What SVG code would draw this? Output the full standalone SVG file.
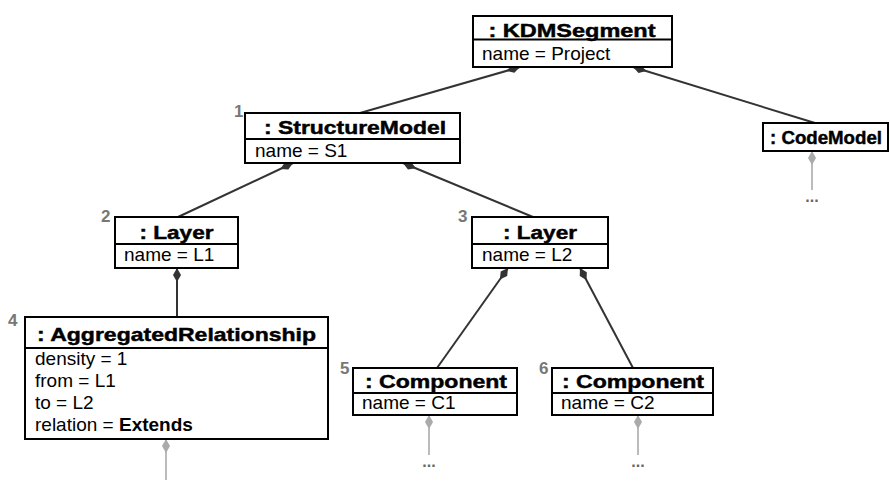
<svg xmlns="http://www.w3.org/2000/svg" width="890" height="484" viewBox="0 0 890 484">
  <style>
    .box { fill: #ffffff; stroke: #000000; stroke-width: 2; }
    .sep { stroke: #000000; stroke-width: 2; }
    .title { font-family: "Liberation Sans", Arial, sans-serif; font-weight: bold; font-size: 18.5px; fill: #000000; stroke: #000000; stroke-width: 0.45; text-anchor: middle; }
    .attr { font-family: "Liberation Sans", Arial, sans-serif; font-size: 19px; fill: #000000; }
    .num { font-family: "Liberation Sans", Arial, sans-serif; font-weight: bold; font-size: 17px; fill: #777777; }
    .more { font-family: "Liberation Sans", Arial, sans-serif; font-weight: bold; font-size: 16px; fill: #666666; text-anchor: middle; }
    .link { stroke: #333333; stroke-width: 2; fill: none; marker-start: url(#diamond); }
    .stub { stroke: #bbbbbb; stroke-width: 2; fill: none; marker-start: url(#diamondGray); }
  </style>
  <defs>
    <marker id="diamond" markerUnits="userSpaceOnUse" markerWidth="16" markerHeight="10" refX="0" refY="5" orient="auto" overflow="visible">
      <path d="M0,5 L7,1 L14,5 L7,9 Z" fill="#333333"/>
    </marker>
    <marker id="diamondGray" markerUnits="userSpaceOnUse" markerWidth="16" markerHeight="10" refX="0" refY="5" orient="auto" overflow="visible">
      <path d="M0,5 L7,1 L14,5 L7,9 Z" fill="#aaaaaa"/>
    </marker>
  </defs>

  <!-- composition links -->
  <g id="connectors">
    <line class="link" x1="520" y1="67" x2="360" y2="113"/>
    <line class="link" x1="633" y1="67" x2="815" y2="123"/>
    <line class="link" x1="293" y1="163" x2="178" y2="217"/>
    <line class="link" x1="403" y1="163" x2="533" y2="217"/>
    <line class="link" x1="177" y1="268" x2="177" y2="317"/>
    <line class="link" x1="508" y1="268" x2="437" y2="368"/>
    <line class="link" x1="580" y1="268" x2="633" y2="368"/>
    <!-- elided children -->
    <line class="stub" x1="812" y1="151" x2="812" y2="190"/>
    <line class="stub" x1="166" y1="439" x2="166" y2="480"/>
    <line class="stub" x1="429" y1="415" x2="429" y2="455"/>
    <line class="stub" x1="638" y1="415" x2="638" y2="455"/>
    <text class="more" x="812" y="202">...</text>
    <text class="more" x="429" y="467">...</text>
    <text class="more" x="638" y="467">...</text>
  </g>

  <g id="kdmSegment">
    <rect class="box" x="473" y="16" width="199" height="51"/>
    <line class="sep" x1="473" y1="39.5" x2="672" y2="39.5"/>
    <text class="title" x="572" y="37" textLength="167" lengthAdjust="spacingAndGlyphs">: KDMSegment</text>
    <text class="attr" x="482" y="60">name = Project</text>
  </g>

  <g id="structureModel">
    <text class="num" x="234" y="117">1</text>
    <rect class="box" x="245" y="113" width="215" height="50"/>
    <line class="sep" x1="245" y1="139" x2="460" y2="139"/>
    <text class="title" x="355" y="134" textLength="182" lengthAdjust="spacingAndGlyphs">: StructureModel</text>
    <text class="attr" x="255" y="157">name = S1</text>
  </g>

  <g id="codeModel">
    <rect class="box" x="763" y="123" width="125" height="28"/>
    <text class="title" x="826" y="144" textLength="112" lengthAdjust="spacingAndGlyphs">: CodeModel</text>
  </g>

  <g id="layer1">
    <text class="num" x="101" y="222">2</text>
    <rect class="box" x="115" y="217" width="123" height="51"/>
    <line class="sep" x1="115" y1="244" x2="238" y2="244"/>
    <text class="title" x="176.5" y="238.5" textLength="74" lengthAdjust="spacingAndGlyphs">: Layer</text>
    <text class="attr" x="124" y="261">name = L1</text>
  </g>

  <g id="layer2">
    <text class="num" x="458" y="222">3</text>
    <rect class="box" x="472" y="217" width="136" height="51"/>
    <line class="sep" x1="472" y1="244" x2="608" y2="244"/>
    <text class="title" x="540" y="238.5" textLength="74" lengthAdjust="spacingAndGlyphs">: Layer</text>
    <text class="attr" x="482" y="261">name = L2</text>
  </g>

  <g id="aggregatedRelationship">
    <text class="num" x="8" y="326">4</text>
    <rect class="box" x="25" y="317" width="303" height="122"/>
    <line class="sep" x1="25" y1="348" x2="328" y2="348"/>
    <text class="title" x="176.5" y="341" textLength="279" lengthAdjust="spacingAndGlyphs">: AggregatedRelationship</text>
    <text class="attr" x="35" y="365">density = 1</text>
    <text class="attr" x="35" y="387">from = L1</text>
    <text class="attr" x="35" y="409">to = L2</text>
    <text class="attr" x="35" y="431">relation = <tspan font-weight="bold">Extends</tspan></text>
  </g>

  <g id="component1">
    <text class="num" x="340" y="374">5</text>
    <rect class="box" x="353" y="368" width="164" height="47"/>
    <line class="sep" x1="353" y1="393" x2="517" y2="393"/>
    <text class="title" x="436" y="388" textLength="142" lengthAdjust="spacingAndGlyphs">: Component</text>
    <text class="attr" x="362" y="409">name = C1</text>
  </g>

  <g id="component2">
    <text class="num" x="539" y="374">6</text>
    <rect class="box" x="552" y="368" width="161" height="47"/>
    <line class="sep" x1="552" y1="393" x2="713" y2="393"/>
    <text class="title" x="633" y="388" textLength="142" lengthAdjust="spacingAndGlyphs">: Component</text>
    <text class="attr" x="561" y="409">name = C2</text>
  </g>
</svg>
